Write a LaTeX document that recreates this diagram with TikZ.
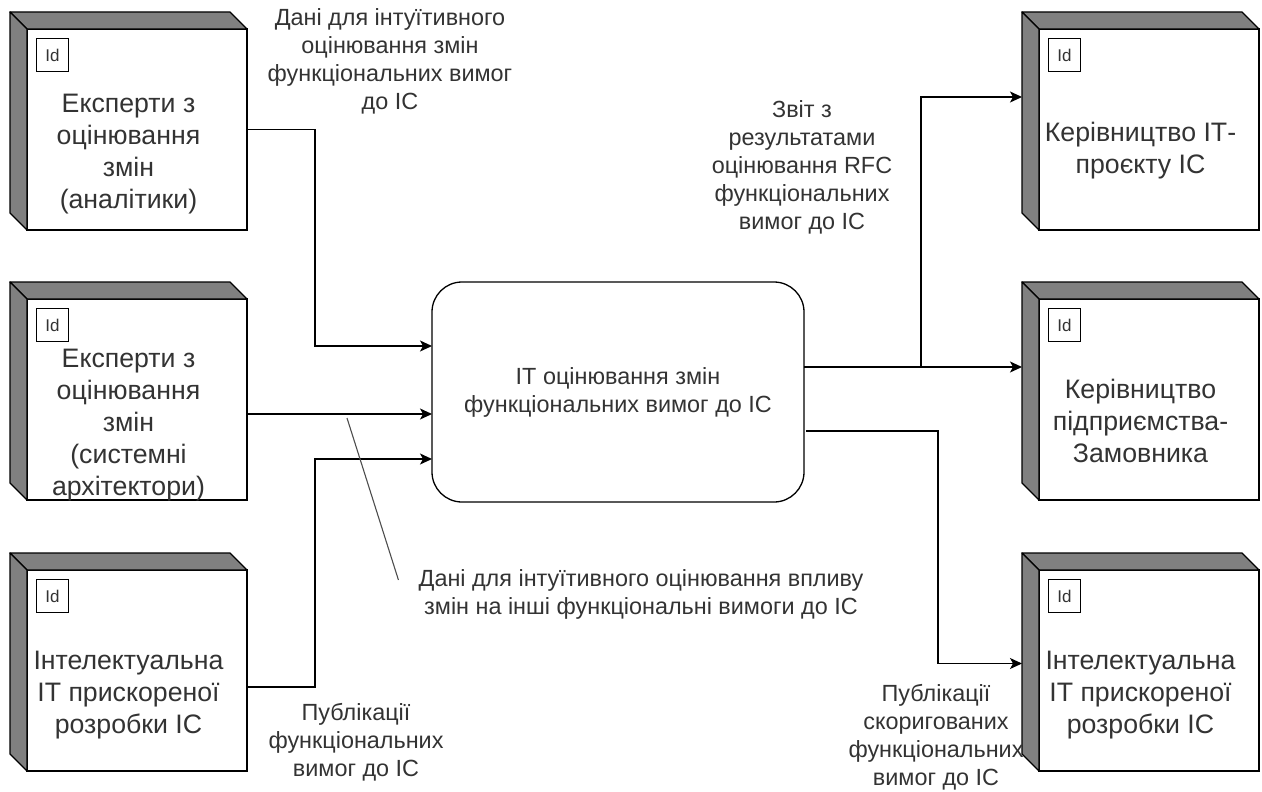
\documentclass[tikz,border=0pt]{standalone}
\usepackage{fontspec}
\setmainfont{Liberation Sans}
\usetikzlibrary{arrows.meta,calc}

\definecolor{ink}{HTML}{333333}
\definecolor{sideface}{HTML}{808080}
\definecolor{leadgray}{HTML}{4D4D4D}

\tikzset{
  frontface/.style={draw=black, line width=1.3pt, fill=white,
    minimum width=220pt, minimum height=201pt, inner sep=0pt, outer sep=0pt},
  depthface/.style={fill=sideface, draw=black, line width=1.3pt, line join=round},
  idbox/.style={draw=black, line width=1.1pt, fill=white, minimum width=32pt,
    minimum height=33pt, inner sep=0pt, anchor=north west, text=ink,
    font=\fontsize{17}{19}\selectfont},
  boxlabel/.style={align=center, text=ink, inner sep=0pt,
    font=\fontsize{26.7}{32}\selectfont},
  edgelabel/.style={align=center, text=ink, inner sep=0pt,
    font=\fontsize{23.4}{28}\selectfont},
  procbox/.style={draw=black, line width=1.3pt, fill=white, rounded corners=30pt,
    minimum width=372pt, minimum height=220pt, inner sep=0pt, outer sep=0pt},
  conn/.style={draw=black, line width=1.3pt},
  arr/.style={conn, -{Stealth[length=12pt, width=11pt, inset=3pt]}},
  leadline/.style={draw=leadgray, line width=1.1pt},
}

% top and left faces of a 3D node box, drawn around its front face
\newcommand\boxfaces[1]{%
  \path[depthface] (#1.north west) -- ++(-17,-17)
    -- ($(#1.north east)+(-17,-17)$) -- (#1.north east) -- cycle;
  \path[depthface] (#1.north west) -- ++(-17,-17)
    -- ($(#1.south west)+(-17,-17)$) -- (#1.south west) -- cycle;
}

\begin{document}
\begin{tikzpicture}[x=1pt, y=-1pt]
\useasboundingbox (0,0) rectangle (1262,792);

% ---- left column: sources
\node[frontface] (l1) at (137,129.5) {};
\boxfaces{l1}
\node[idbox] (l1id) at ($(l1.north west)+(9,9)$) {Id};
\node[boxlabel] (l1t) at ($(l1.center)+(-8.5,24.5)$)
  {Експерти з\\оцінювання\\змін\\(аналітики)};

\node[frontface] (l2) at (137,399.5) {};
\boxfaces{l2}
\node[idbox] (l2id) at ($(l2.north west)+(9,9)$) {Id};
\node[boxlabel] (l2t) at ($(l2.center)+(-8.5,25.5)$)
  {Експерти з\\оцінювання\\змін\\(системні\\архітектори)};

\node[frontface] (l3) at (137,670.5) {};
\boxfaces{l3}
\node[idbox] (l3id) at ($(l3.north west)+(9,9)$) {Id};
\node[boxlabel] (l3t) at ($(l3.center)+(-8.5,24.5)$)
  {Інтелектуальна\\ІТ прискореної\\розробки ІС};

% ---- right column: recipients
\node[frontface] (r1) at (1149,129.5) {};
\boxfaces{r1}
\node[idbox] (r1id) at ($(r1.north west)+(9,9)$) {Id};
\node[boxlabel] (r1t) at ($(r1.center)+(-8.5,21)$)
  {Керівництво ІТ-\\проєкту ІС};

\node[frontface] (r2) at (1149,399.5) {};
\boxfaces{r2}
\node[idbox] (r2id) at ($(r2.north west)+(9,9)$) {Id};
\node[boxlabel] (r2t) at ($(r2.center)+(-8.5,21)$)
  {Керівництво\\підприємства-\\Замовника};

\node[frontface] (r3) at (1149,670.5) {};
\boxfaces{r3}
\node[idbox] (r3id) at ($(r3.north west)+(9,9)$) {Id};
\node[boxlabel] (r3t) at ($(r3.center)+(-8.5,24.5)$)
  {Інтелектуальна\\ІТ прискореної\\розробки ІС};

% ---- central process
\node[procbox] (c) at (618,392) {};
\node[edgelabel] (ct) at (c.center)
  {ІТ оцінювання змін\\функціональних вимог до ІС};

% ---- inputs
\coordinate (cin1) at ($(c.west)+(0,-46)$);
\coordinate (cin2) at ($(c.west)+(0,22)$);
\coordinate (cin3) at ($(c.west)+(0,67)$);

\draw[arr] (l1.east) -- ++(68,0) |- (cin1);
\draw[arr] (l2.east |- cin2) -- (cin2);
\draw[arr] ($(l3.east)+(0,16.5)$) -- ++(68,0) |- (cin3);

% ---- outputs
\coordinate (cout1) at ($(c.east)+(0,-25)$);
\coordinate (cout2) at ($(c.east)+(2,39)$);
\coordinate (r1in) at ($(r1.west)+(-17,-32.5)$);
\coordinate (r2in) at ($(r2.west)+(-17,-32.5)$);
\coordinate (r3in) at ($(r3.west)+(-17,-7)$);
\coordinate (split) at ($(cout1)+(117,0)$);

\draw[arr] (cout1) -- (r2in);
\draw[arr] (split) |- (r1in);
\draw[arr] (cout2) -- ++(132,0) |- (r3in);

% ---- flow labels
\node[edgelabel] (lbl1) at (390,61)
  {Дані для інтуїтивного\\оцінювання змін\\функціональних вимог\\до ІС};
\node[edgelabel] (lbl2) at (641,594)
  {Дані для інтуїтивного оцінювання впливу\\змін на інші функціональні вимоги до ІС};
\node[edgelabel] (lbl3) at (356,742)
  {Публікації\\функціональних\\вимог до ІС};
\node[edgelabel] (lbl4) at (802,167)
  {Звіт з\\результатами\\оцінювання RFC\\функціональних\\вимог до ІС};
\node[edgelabel] (lbl5) at (936,737)
  {Публікації\\скоригованих\\функціональних\\вимог до ІС};

% leader from the middle input flow to its label
\coordinate (lk) at ($(l2.east |- cin2)+(100,4)$);
\draw[leadline] (lk) -- ($(lbl2.west)+(-20,-14)$);

\end{tikzpicture}
\end{document}
